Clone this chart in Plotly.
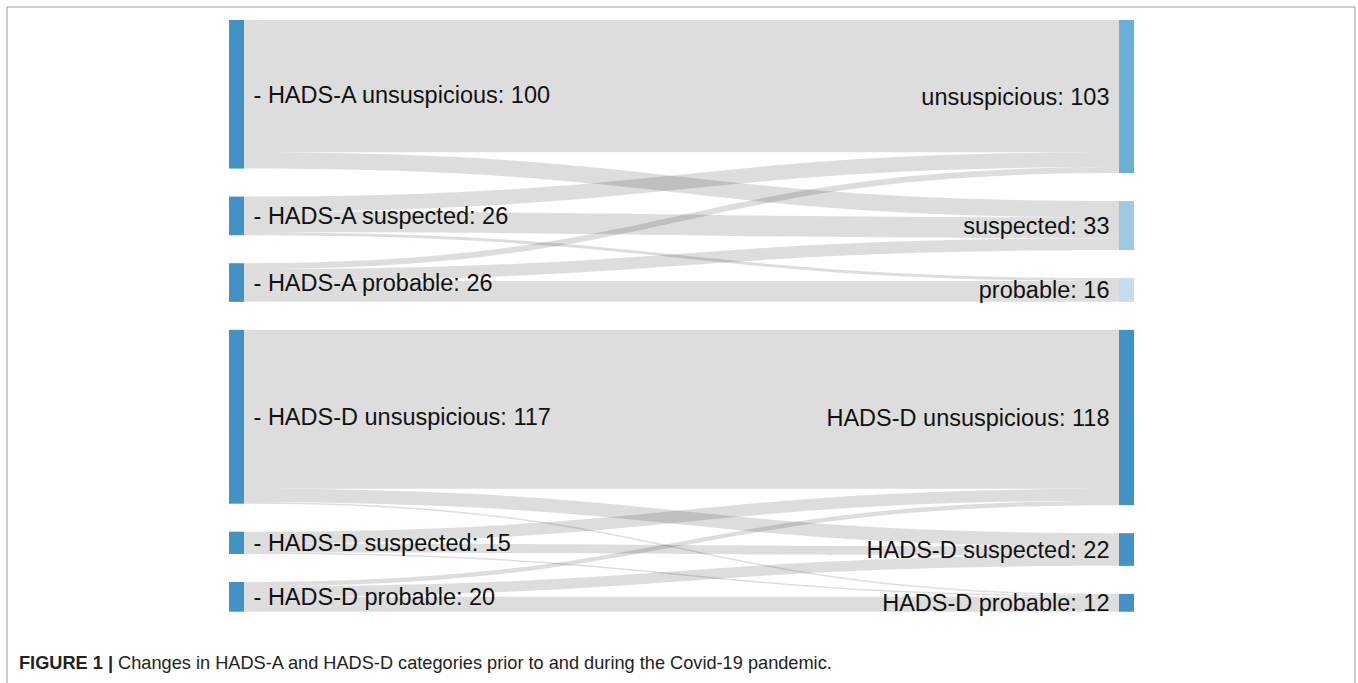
import plotly.graph_objects as go

# ---------------- data ----------------
left_labels_A = ["- HADS-A unsuspicious: 100", "- HADS-A suspected: 26", "- HADS-A probable: 26"]
left_labels_D = ["- HADS-D unsuspicious: 117", "- HADS-D suspected: 15", "- HADS-D probable: 20"]
right_labels_A = ["unsuspicious: 103", "suspected: 33", "probable: 16"]
right_labels_D = ["HADS-D unsuspicious: 118", "HADS-D suspected: 22", "HADS-D probable: 12"]

# rows = before (unsuspicious, suspected, probable), cols = during
flows_A = [[89, 11, 0],
           [10, 14, 2],
           [4, 8, 14]]
flows_D = [[107, 9, 1],
           [8, 6, 1],
           [3, 7, 10]]

caption_bold = "FIGURE 1 |"
caption_text = " Changes in HADS-A and HADS-D categories prior to and during the Covid-19 pandemic."

# ---------------- styling ----------------
W, H = 1358, 683
left_col_color = "#4292c6"
right_A_colors = ["#6baed6", "#9ecae1", "#c6dbef"]
right_D_color = "#4292c6"
link_color = "rgba(0,0,0,0.135)"
pad = 28
thick = 15
dom_x = [229 / W, 1134 / W]
dom_y = [1 - 611.7 / H, 1 - 20 / H]
NBSP = "\u00a0"

# ---------------- build graph ----------------
labels = ([NBSP + s for s in left_labels_A + left_labels_D]
          + [s + NBSP for s in right_labels_A + right_labels_D])
colors = [left_col_color] * 6 + right_A_colors + [right_D_color] * 3
src, tgt, val = [], [], []
for off_l, off_r, mat in [(0, 6, flows_A), (3, 9, flows_D)]:
    for i, row in enumerate(mat):
        for j, v in enumerate(row):
            if v > 0:
                src.append(off_l + i)
                tgt.append(off_r + j)
                val.append(v)

n = len(labels)
out_v = [0] * n
in_v = [0] * n
for s, t, v in zip(src, tgt, val):
    out_v[s] += v
    in_v[t] += v
node_val = [max(a, b) for a, b in zip(out_v, in_v)]

# compute fixed node positions (same scale plotly uses)
dom_w = (dom_x[1] - dom_x[0]) * W
dom_h = (dom_y[1] - dom_y[0]) * H
columns = [list(range(0, 6)), list(range(6, 12))]
ky = min((dom_h - (len(c) - 1) * pad) / sum(node_val[k] for k in c) for c in columns)
xs = [0.0] * n
ys = [0.0] * n
for ci, col in enumerate(columns):
    y = 0.0
    for k in col:
        h = node_val[k] * ky
        ys[k] = (y + h / 2) / dom_h
        xs[k] = (thick / 2) / dom_w if ci == 0 else 1 - (thick / 2) / dom_w
        y += h + pad

fig = go.Figure(go.Sankey(
    arrangement="fixed",
    domain=dict(x=dom_x, y=dom_y),
    node=dict(label=labels, color=colors, pad=pad, thickness=thick,
              line=dict(width=0), x=xs, y=ys),
    link=dict(source=src, target=tgt, value=val, color=link_color),
    textfont=dict(family="Liberation Sans, Arial, sans-serif", size=23.5, color="#111111", shadow="none"),
))

fig.add_shape(type="rect", xref="paper", yref="paper",
              x0=7 / W, x1=1355 / W, y0=-0.05, y1=1 - 7 / H,
              line=dict(color="#9a9a9a", width=1), fillcolor="rgba(0,0,0,0)")

fig.add_annotation(xref="paper", yref="paper", x=17 / W, y=1 - 663 / H,
                   xanchor="left", yanchor="middle", showarrow=False,
                   text="<b>" + caption_bold + "</b>" + caption_text,
                   font=dict(family="Liberation Sans, Arial, sans-serif", size=18.2, color="#222222"))

fig.update_layout(width=W, height=H, margin=dict(l=0, r=0, t=0, b=0),
                  paper_bgcolor="white", plot_bgcolor="white")

fig.write_html("out.html", config={"displayModeBar": False},
               post_script="document.body.style.margin='0';")
